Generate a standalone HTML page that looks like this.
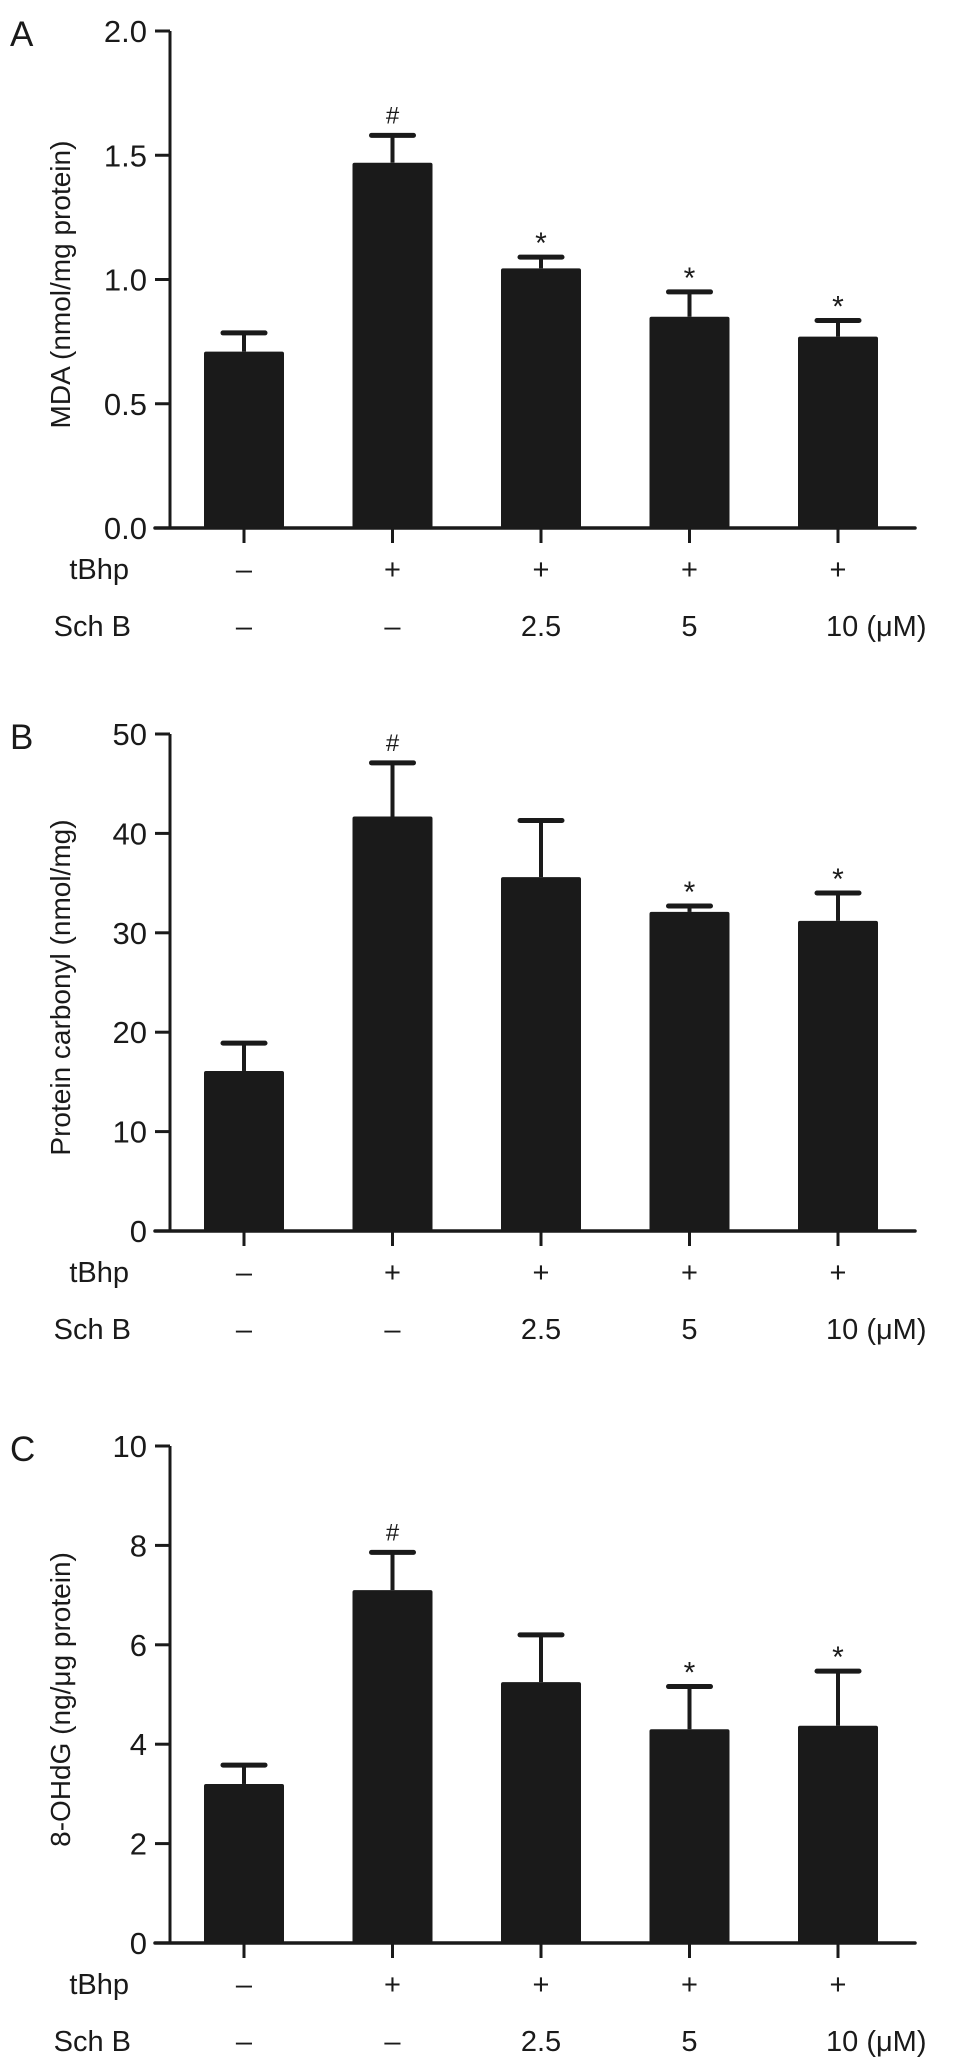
<!DOCTYPE html>
<html><head><meta charset="utf-8"><style>
html,body{margin:0;padding:0;background:#fff;}
svg{display:block;}
text{font-family:"Liberation Sans",Arial,sans-serif;fill:#1a1a1a;}
</style></head><body>
<svg id="fig" width="969" height="2071" viewBox="0 0 969 2071" xmlns="http://www.w3.org/2000/svg"></svg>
<script>
// Shared categories
const groups = ["ctrl","tBhp","tBhp+SchB2.5","tBhp+SchB5","tBhp+SchB10"];
const tbhpLabels = ["–","+","+","+","+"];
const schbLabels = ["–","–","2.5","5","10 (μM)"];

// Panel A: MDA
const mdaMeans = [0.71, 1.47, 1.045, 0.85, 0.77];
const mdaErrors = [0.075, 0.11, 0.045, 0.10, 0.065];
const mdaMarks = ["", "#", "*", "*", "*"];
const mdaTicks = [0, 0.5, 1.0, 1.5, 2.0];
const mdaTickLabels = ["0.0","0.5","1.0","1.5","2.0"];

// Panel B: protein carbonyl
const pcMeans = [16.1, 41.7, 35.6, 32.1, 31.2];
const pcErrors = [2.8, 5.4, 5.7, 0.6, 2.8];
const pcMarks = ["", "#", "", "*", "*"];
const pcTicks = [0, 10, 20, 30, 40, 50];
const pcTickLabels = ["0","10","20","30","40","50"];

// Panel C: 8-OHdG
const ohMeans = [3.2, 7.1, 5.25, 4.3, 4.37];
const ohErrors = [0.38, 0.76, 0.95, 0.86, 1.1];
const ohMarks = ["", "#", "", "*", "*"];
const ohTicks = [0, 2, 4, 6, 8, 10];
const ohTickLabels = ["0","2","4","6","8","10"];

const NS = "http://www.w3.org/2000/svg";
const svg = document.getElementById("fig");
function mk(tag, attrs, parent, txt){
  const e = document.createElementNS(NS, tag);
  for (const k in attrs) e.setAttribute(k, attrs[k]);
  if (txt !== undefined) e.textContent = txt;
  (parent || svg).appendChild(e);
  return e;
}

const AX = 170, AXR = 915, BAR0 = 244, STEP = 148.5, BW = 80, PH = 497;

function panel(id, letter, base, ymax, means, errs, marks, ticks, tickLabels, title){
  const g = mk("g", {});
  
  
  const top = base - PH;
  const y = v => base - v / ymax * PH;
  const x = i => BAR0 + i * STEP;

  const pl = mk("text", {x: 10, y: top + 15, "font-size": 35}, g, letter);
  
  

  means.forEach((m, i) => {
    const cx = x(i);
    const eTop = y(m + errs[i]);
    const st = mk("line", {x1: cx, x2: cx, y1: y(m), y2: eTop, stroke: "#1a1a1a", "stroke-width": 4}, g);
    
    
    const cap = mk("line", {x1: cx - 21, x2: cx + 21, y1: eTop, y2: eTop, stroke: "#1a1a1a", "stroke-width": 5, "stroke-linecap": "round"}, g);
    
    
    const r = mk("rect", {x: cx - BW/2, y: y(m), width: BW, height: base - y(m), fill: "#1a1a1a", rx: 2}, g);
    
    
    if (marks[i]) {
      const isHash = marks[i] === "#";
      const t = mk("text", {x: cx, y: eTop - (isHash ? 12 : 4), "text-anchor": "middle", "font-size": isHash ? 24 : 30, fill: "#333"}, g, marks[i]);
      
      
    }
    const xt = mk("line", {x1: cx, x2: cx, y1: base, y2: base + 15, stroke: "#1a1a1a", "stroke-width": 3}, g);
    
    
    const tl = mk("text", {x: cx, y: base + 51, "text-anchor": "middle", "font-size": 29}, g, tbhpLabels[i]);
    
    
    const last = i === means.length - 1;
    const sl = mk("text", {x: last ? cx - 12 : cx, y: base + 108, "text-anchor": last ? "start" : "middle", "font-size": 29}, g, schbLabels[i]);
    
    
  });

  const ya = mk("line", {x1: AX, x2: AX, y1: top, y2: base, stroke: "#1a1a1a", "stroke-width": 3}, g);
  
  
  const xa = mk("line", {x1: AX - 15, x2: AXR, y1: base, y2: base, stroke: "#1a1a1a", "stroke-width": 3.5, "stroke-linecap": "round"}, g);
  
  
  ticks.forEach((v, k) => {
    const tk = mk("line", {x1: AX - 15, x2: AX, y1: y(v), y2: y(v), stroke: "#1a1a1a", "stroke-width": 3}, g);
    
    
    const tt = mk("text", {x: AX - 23, y: y(v) + 11, "text-anchor": "end", "font-size": 31}, g, tickLabels[k]);
    
    
  });
  const yt = mk("text", {x: 0, y: 0, "text-anchor": "middle", "font-size": 28,
    transform: "translate(70," + (top + PH/2 + 5) + ") rotate(-90)"}, g, title);
  
  

  const r1 = mk("text", {x: 129, y: base + 51, "text-anchor": "end", "font-size": 29}, g, "tBhp");
  
  
  const r2 = mk("text", {x: 131, y: base + 108, "text-anchor": "end", "font-size": 29}, g, "Sch B");
  
  
}

panel("a", "A", 528, 2.0, mdaMeans, mdaErrors, mdaMarks, mdaTicks, mdaTickLabels, "MDA (nmol/mg protein)");
panel("b", "B", 1231, 50, pcMeans, pcErrors, pcMarks, pcTicks, pcTickLabels, "Protein carbonyl (nmol/mg)");
panel("c", "C", 1943, 10, ohMeans, ohErrors, ohMarks, ohTicks, ohTickLabels, "8-OHdG (ng/μg protein)");
</script>
</body></html>
